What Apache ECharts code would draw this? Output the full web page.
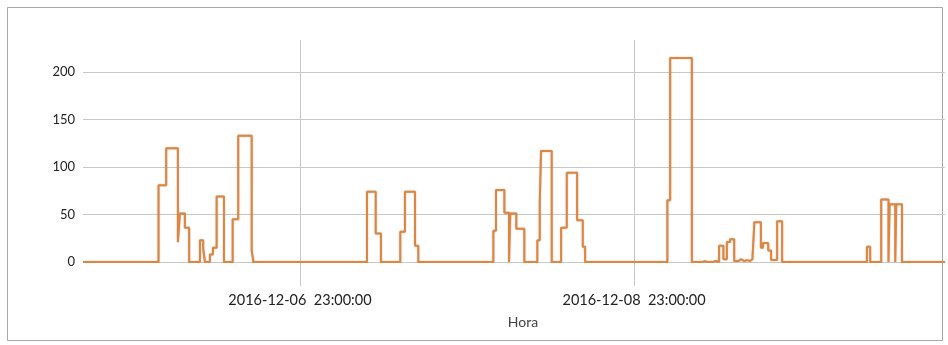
<!DOCTYPE html>
<html>
<head>
<meta charset="utf-8">
<script src="https://cdn.jsdelivr.net/npm/echarts@6/dist/echarts.min.js"></script>
<style>
  html, body { margin: 0; padding: 0; background: #fff; }
  #chart { width: 948px; height: 345px; }
</style>
</head>
<body>
<div id="chart"></div>
<script>
// Consumption readings: each level holds from its timestamp until the next one.
const changeTimes = [
  '2016-12-05 15:50',
  '2016-12-06 02:41', '2016-12-06 03:47', '2016-12-06 05:28', '2016-12-06 05:45',
  '2016-12-06 06:28', '2016-12-06 07:05', '2016-12-06 08:38', '2016-12-06 09:06',
  '2016-12-06 09:21', '2016-12-06 10:04', '2016-12-06 10:30', '2016-12-06 11:02',
  '2016-12-06 12:05', '2016-12-06 13:20', '2016-12-06 14:08', '2016-12-06 16:04',
  '2016-12-06 16:19',
  '2016-12-07 08:38', '2016-12-07 09:53', '2016-12-07 10:38', '2016-12-07 13:25',
  '2016-12-07 14:05', '2016-12-07 15:32', '2016-12-07 16:00',
  '2016-12-08 02:47', '2016-12-08 03:10', '2016-12-08 04:22', '2016-12-08 05:02',
  '2016-12-08 05:13', '2016-12-08 06:05', '2016-12-08 07:14', '2016-12-08 09:06',
  '2016-12-08 09:27', '2016-12-08 09:38', '2016-12-08 11:10', '2016-12-08 12:31',
  '2016-12-08 13:20', '2016-12-08 14:49', '2016-12-08 15:38', '2016-12-08 15:58',
  '2016-12-09 03:47', '2016-12-09 04:11', '2016-12-09 07:18',
  '2016-12-09 08:50', '2016-12-09 09:10', '2016-12-09 09:30', '2016-12-09 09:45',
  '2016-12-09 10:20', '2016-12-09 10:40', '2016-12-09 11:13', '2016-12-09 11:50',
  '2016-12-09 12:20', '2016-12-09 12:48', '2016-12-09 13:23', '2016-12-09 14:00',
  '2016-12-09 14:20', '2016-12-09 14:50', '2016-12-09 15:10', '2016-12-09 15:40',
  '2016-12-09 16:00', '2016-12-09 16:17', '2016-12-09 17:13', '2016-12-09 17:32',
  '2016-12-09 18:16', '2016-12-09 18:41', '2016-12-09 19:33', '2016-12-09 20:16',
  '2016-12-10 08:27', '2016-12-10 08:55', '2016-12-10 10:30', '2016-12-10 11:33',
  '2016-12-10 11:43', '2016-12-10 12:31', '2016-12-10 12:40', '2016-12-10 13:29',
  '2016-12-10 19:40'
];
const levels = [
  0,
  81, 120, 21, 51,
  36, 0, 23, 14,
  0, 8, 15, 69,
  0, 45, 133, 12,
  0,
  74, 30, 0, 32,
  74, 17, 0,
  33, 76, 52, 0,
  51, 35, 0, 23,
  63, 117, 0, 36,
  94, 44, 16, 0,
  65, 215, 0,
  1, 0, 2, 0,
  1, 0, 17, 3,
  21, 24, 1, 3,
  1, 2, 1, 3,
  1, 42, 15, 20,
  12, 2, 43, 0,
  16, 0, 66, 0,
  61, 0, 61, 0,
  0
];
// Labelled instants on the time axis
const tickTimes = ['2016-12-06 23:00', '2016-12-08 23:00'];
const yTicks = [0, 50, 100, 150, 200];

function toMs(s) {
  const [d, t] = s.split(' ');
  const [Y, M, D] = d.split('-').map(Number);
  const [h, m] = t.split(':').map(Number);
  return new Date(Y, M - 1, D, h, m).getTime();
}
function pad(n) { return (n < 10 ? '0' : '') + n; }
function fmt(ms) {
  const d = new Date(ms);
  return d.getFullYear() + '-' + pad(d.getMonth() + 1) + '-' + pad(d.getDate()) +
    '  ' + pad(d.getHours()) + ':' + pad(d.getMinutes()) + ':' + pad(d.getSeconds());
}

const seriesData = changeTimes.map((t, i) => [toMs(t), levels[i]]);
const tickMs = tickTimes.map(toMs);
const font = 'Lato, "Open Sans", sans-serif';

const chart = echarts.init(document.getElementById('chart'), null, { renderer: 'canvas' });
chart.setOption({
  animation: false,
  backgroundColor: '#fff',
  textStyle: { fontFamily: font },
  graphic: [{
    type: 'rect',
    shape: { x: 7.5, y: 7.5, width: 935, height: 333 },
    style: { fill: 'none', stroke: '#a8a8a8', lineWidth: 1 },
    silent: true
  }],
  grid: { left: 83, right: 3, top: 40, bottom: 83 },
  xAxis: {
    type: 'value',
    min: seriesData[0][0],
    max: seriesData[seriesData.length - 1][0],
    name: 'Hora',
    nameLocation: 'middle',
    nameGap: 53,
    nameTextStyle: { color: '#444', fontSize: 14, fontFamily: font, padding: [0, 0, 0, 18] },
    axisLine: { show: false },
    axisTick: {
      show: true, length: 24, customValues: tickMs,
      lineStyle: { color: '#c8c8c8', width: 1 }
    },
    axisLabel: {
      customValues: tickMs, formatter: v => fmt(v),
      color: '#222', fontSize: 14.5, fontFamily: font, margin: 31
    },
    splitLine: { show: true, lineStyle: { color: '#c8c8c8', width: 1 } }
  },
  yAxis: {
    type: 'value',
    min: 0,
    max: 234,
    axisLine: { show: false },
    axisTick: { show: false },
    axisLabel: {
      customValues: yTicks,
      color: '#222', fontSize: 13, fontFamily: font, margin: 8
    },
    splitLine: { show: false }
  },
  series: [{
    type: 'line',
    step: 'end',
    data: seriesData,
    showSymbol: false,
    lineStyle: {
      color: '#e0853c', width: 2,
      shadowColor: 'rgba(90,90,90,0.45)', shadowBlur: 1.5
    },
    markLine: {
      silent: true,
      symbol: 'none',
      label: { show: false },
      z: 1,
      lineStyle: { color: '#c8c8c8', type: 'solid', width: 1, shadowBlur: 0 },
      data: yTicks.map(v => ({ yAxis: v }))
    },
    z: 3
  }]
});
</script>
</body>
</html>
